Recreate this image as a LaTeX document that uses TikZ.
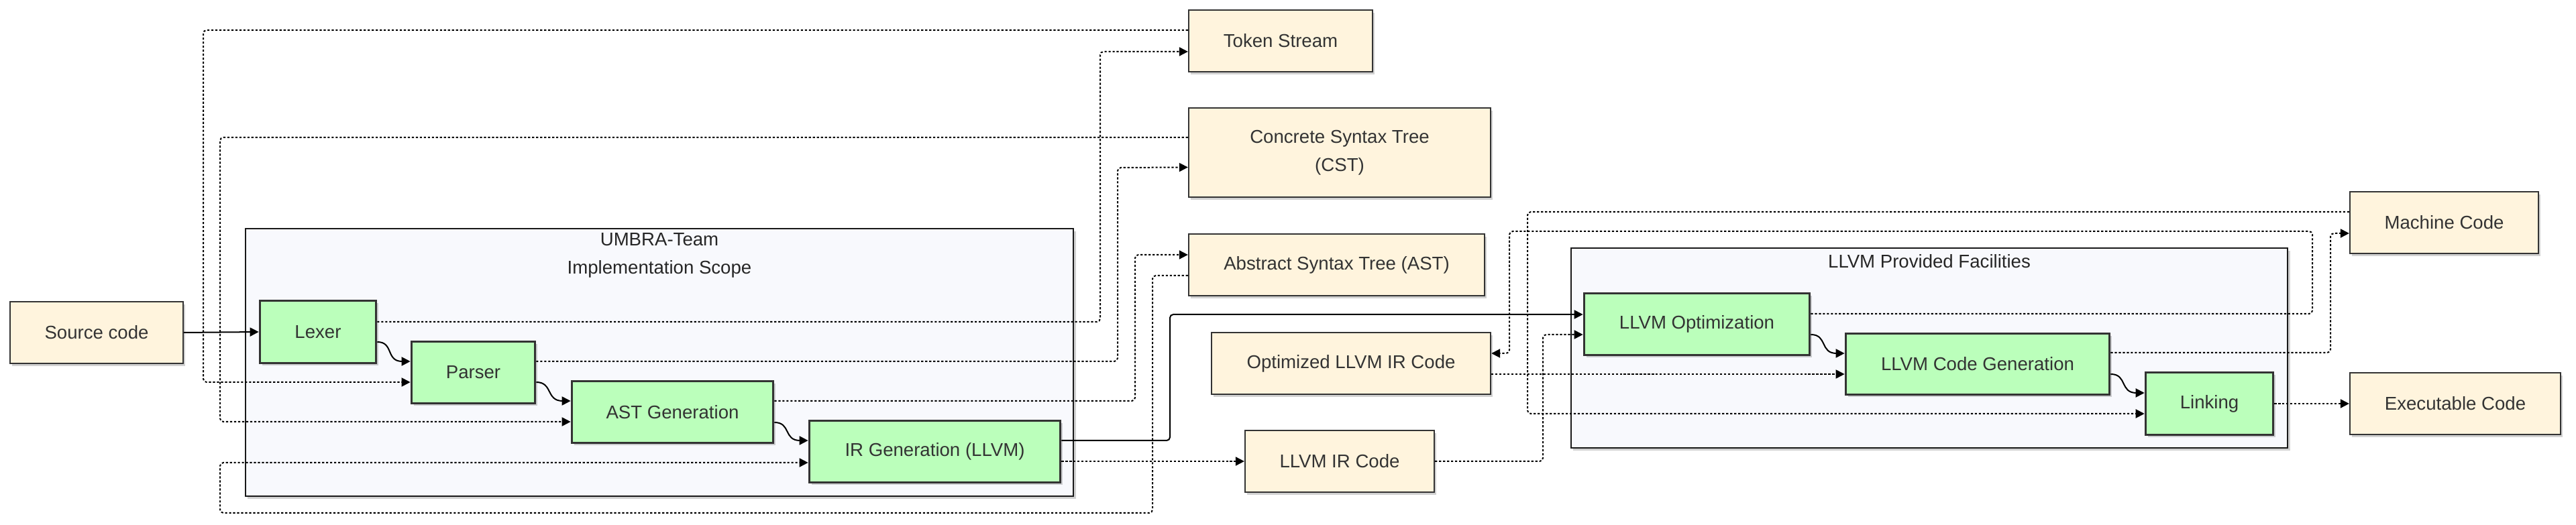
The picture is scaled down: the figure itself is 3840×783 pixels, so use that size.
\documentclass[tikz,border=0pt]{standalone}
\usepackage{fontspec}
\setmainfont{Liberation Sans}
\usetikzlibrary{arrows.meta,calc,shadows}
\definecolor{cream}{HTML}{FFF4DD}
\definecolor{procfill}{HTML}{BBFFBB}
\definecolor{grpfill}{HTML}{F8F9FD}
\definecolor{bord}{HTML}{333333}
\definecolor{txt}{HTML}{333333}
\begin{document}
\begin{tikzpicture}[x=0.01cm,y=-0.01cm,
  lbl/.style={font=\fontsize{7.85pt}{11.9pt}\selectfont, text=txt, align=center, inner sep=0pt},
  shad/.style={drop shadow={shadow xshift=0.9pt,shadow yshift=-1.1pt,opacity=0.18,fill=black}},
  iobox/.style={lbl, draw=bord, fill=cream, line width=0.6pt, shad},
  procbox/.style={lbl, draw=bord, fill=procfill, line width=1pt, shad},
  grpbox/.style={draw=black!90, fill=grpfill, line width=0.6pt, shad, inner sep=0pt},
  grptitle/.style={lbl, text=black!85},
  flow/.style={draw=black, line width=0.57pt, -{Triangle[length=3.7pt,width=3.7pt]}},
  solidflow/.style={flow, rounded corners=1.4pt},
  dotflow/.style={flow, dash pattern=on 0.9pt off 0.8pt, rounded corners=1.4pt},
]
\fill[white] (0,0) rectangle (3840,783);
\useasboundingbox (0,0) rectangle (3840,783);

% groups
\node[grpbox, minimum width=12.34cm, minimum height=3.99cm] (umbra) at (983,540.5) {};
\node[grptitle] (umbraT) at (983,381) {UMBRA-Team\\Implementation Scope};
\node[grpbox, minimum width=10.68cm, minimum height=2.98cm] (llvmg) at (2876,519) {};
\node[grptitle] (llvmT) at (2876,390) {LLVM Provided Facilities};

% process nodes
\node[procbox, minimum width=1.73cm, minimum height=0.93cm] (lexer) at (474,495) {Lexer};
\node[procbox, minimum width=1.84cm, minimum height=0.92cm] (parser) at (705.5,555.5) {Parser};
\node[procbox, minimum width=3.00cm, minimum height=0.92cm] (astgen) at (1002.5,614.5) {AST Generation};
\node[procbox, minimum width=3.74cm, minimum height=0.92cm] (irgen) at (1393.5,673.5) {IR Generation (LLVM)};
\node[procbox, minimum width=3.36cm, minimum height=0.92cm] (opt) at (2529.5,483.5) {LLVM Optimization};
\node[procbox, minimum width=3.93cm, minimum height=0.91cm] (codegen) at (2948,543) {LLVM Code Generation};
\node[procbox, minimum width=1.90cm, minimum height=0.93cm] (linking) at (3293.5,602) {Linking};

% data nodes
\node[iobox, minimum width=2.58cm, minimum height=0.92cm] (src) at (144,496) {Source code};
\node[iobox, minimum width=2.74cm, minimum height=0.92cm] (tok) at (1909,61) {Token Stream};
\node[iobox, minimum width=4.50cm, minimum height=1.33cm] (cst) at (1997,227.5) {Concrete Syntax Tree\\(CST)};
\node[iobox, minimum width=4.41cm, minimum height=0.92cm] (ast) at (1992.5,395) {Abstract Syntax Tree (AST)};
\node[iobox, minimum width=4.16cm, minimum height=0.92cm] (optir) at (2014,542) {Optimized LLVM IR Code};
\node[iobox, minimum width=2.82cm, minimum height=0.92cm] (llvmir) at (1997,688) {LLVM IR Code};
\node[iobox, minimum width=2.81cm, minimum height=0.92cm] (machine) at (3643.5,332) {Machine Code};
\node[iobox, minimum width=3.14cm, minimum height=0.92cm] (exec) at (3660,602) {Executable Code};

% main solid flow
\draw[flow] (src.east) -- (lexer.west);
\draw[flow] ($(lexer.east)+(0,15)$) .. controls +(25,0) and +(-25,0) .. ($(parser.west)+(-12,-16.5)$) -- ($(parser.west)+(0,-16.5)$);
\draw[flow] ($(parser.east)+(0,14.5)$) .. controls +(25,0) and +(-25,0) .. ($(astgen.west)+(-12,-16.5)$) -- ($(astgen.west)+(0,-16.5)$);
\draw[flow] ($(astgen.east)+(0,15.5)$) .. controls +(25,0) and +(-25,0) .. ($(irgen.west)+(-12,-16.5)$) -- ($(irgen.west)+(0,-16.5)$);
\draw[solidflow] ($(irgen.east)+(0,-16.5)$) -| (1744,469) -- ($(opt.west)+(0,-14.5)$);
\draw[flow] ($(opt.east)+(0,15.5)$) .. controls +(25,0) and +(-25,0) .. ($(codegen.west)+(-12,-16)$) -- ($(codegen.west)+(0,-16)$);
\draw[flow] ($(codegen.east)+(0,15)$) .. controls +(25,0) and +(-25,0) .. ($(linking.west)+(-12,-16)$) -- ($(linking.west)+(0,-16)$);

% dotted data flows
\draw[dotflow] ($(lexer.east)+(0,-15)$) -| (1640,77) -- ($(tok.west)+(0,16)$);
\draw[dotflow] ($(tok.west)+(0,-16)$) -| (303,570) -- ($(parser.west)+(0,14.5)$);
\draw[dotflow] ($(parser.east)+(0,-16.5)$) -| (1666,250) -- ($(cst.west)+(0,22)$);
\draw[dotflow] ($(cst.west)+(0,-22.5)$) -| (328,629) -- ($(astgen.west)+(0,14.5)$);
\draw[dotflow] ($(astgen.east)+(0,-16.5)$) -| (1692,380) -- ($(ast.west)+(0,-15)$);
\draw[dotflow] ($(ast.west)+(0,16)$) -| (1718,765) -| (328,690) -- ($(irgen.west)+(0,16.5)$);
\draw[dotflow] (irgen.east |- llvmir.west) -- (llvmir.west);
\draw[dotflow] (llvmir.east) -| (2300,499) -- ($(opt.west)+(0,15.5)$);
\draw[dotflow] ($(opt.east)+(0,-15.5)$) -| (3447,345) -| (2250,527) -- ($(optir.east)+(0,-15)$);
\draw[dotflow] ($(optir.east)+(0,16)$) -- ($(codegen.west)+(0,15)$);
\draw[dotflow] ($(codegen.east)+(0,-17)$) -| (3474,348) -- ($(machine.west)+(0,16)$);
\draw[dotflow] ($(machine.west)+(0,-16)$) -| (2277,617) -- ($(linking.west)+(0,15)$);
\draw[dotflow] (linking.east) -- (exec.west);
\end{tikzpicture}
\end{document}
